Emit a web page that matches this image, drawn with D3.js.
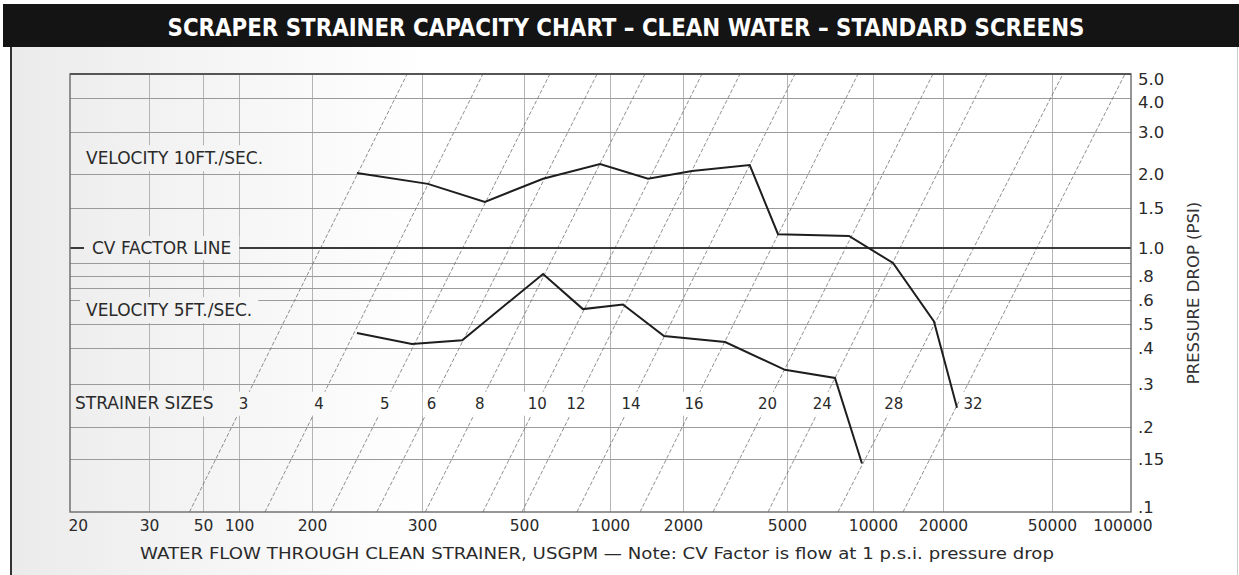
<!DOCTYPE html>
<html><head><meta charset="utf-8">
<script src="https://cdn.jsdelivr.net/npm/d3@7"></script>
<style>
body{margin:0;background:#fff;}
svg{display:block;}
text{font-family:"DejaVu Sans",sans-serif;}
</style>
</head><body>
<svg id="chart" width="1239" height="575"></svg>
<script>
// ---------------- DATA ----------------
const titleText = "SCRAPER STRAINER CAPACITY CHART \u2013 CLEAN WATER \u2013 STANDARD SCREENS";
const xTitle = "WATER FLOW THROUGH CLEAN STRAINER, USGPM \u2014 Note: CV Factor is flow at 1 p.s.i. pressure drop";
const yTitle = "PRESSURE DROP (PSI)";

const flowTicks = [20, 30, 50, 100, 200, 300, 500, 1000, 2000, 5000, 10000, 20000, 50000, 100000];
const pressureTicks = [5.0, 4.0, 3.0, 2.0, 1.5, 1.0, 0.9, 0.8, 0.7, 0.6, 0.5, 0.4, 0.3, 0.2, 0.15, 0.1];
const pressureLabels = ["5.0", "4.0", "3.0", "2.0", "1.5", "1.0", "", ".8", "", ".6", ".5", ".4", ".3", ".2", ".15", ".1"];

const velocity10Flow = [236, 309, 411, 583, 923, 1435, 2165, 3600, 4620, 8240, 12190, 18290, 22500];
const velocity10Drop = [2.02, 1.84, 1.58, 1.92, 2.20, 1.92, 2.06, 2.18, 1.15, 1.13, 0.90, 0.51, 0.24];

const velocity5Flow = [236, 289, 367, 583, 804, 1131, 1670, 2900, 4910, 7360, 9150];
const velocity5Drop = [0.46, 0.415, 0.43, 0.815, 0.56, 0.58, 0.447, 0.423, 0.336, 0.315, 0.145];

const strainerSizes = ["3", "4", "5", "6", "8", "10", "12", "14", "16", "20", "24", "28", "32"];
const sizeFlowAtMinDrop = [44, 128, 214, 254, 305, 407, 495, 766, 1330, 2605, 4229, 7541, 13460];     // flow at 0.1 psi
const sizeFlowAtMaxDrop = [284, 407, 616, 901, 1394, 2364, 3305, 5333, 8863, 18110, 28960, 55050, 94870]; // flow at 5.0 psi

const cvFactorDrop = 1.0;

// ---------------- LAYOUT ----------------
const W = 1239, H = 575;
const plot = {left: 70, right: 1131, top: 74, bottom: 512};
// the printed chart's axes are hand-spaced: stop offsets of each labelled grid line
const xStops = [0, 79, 133, 169, 242, 352, 454, 540, 613, 717, 803, 873, 982, 1061];
const yStops = [0, 24, 58, 100, 134, 174, 189, 202, 214, 226, 250, 274, 310, 353, 385, 438];

const svg = d3.select("#chart");
const defs = svg.append("defs");
const grad = defs.append("linearGradient").attr("id", "bg")
  .attr("gradientUnits", "userSpaceOnUse").attr("x1", 10).attr("x2", 430).attr("y1", 0).attr("y2", 0);
grad.append("stop").attr("offset", 0).attr("stop-color", "#ebebeb");
grad.append("stop").attr("offset", 1).attr("stop-color", "#ffffff");

const x = d3.scaleLog().domain(flowTicks).range(xStops.map(d => plot.left + d));
const y = d3.scaleLog().domain(pressureTicks).range(yStops.map(d => plot.top + d));

// ---------------- FRAME ----------------
svg.append("rect").attr("x", 0).attr("y", 0).attr("width", W).attr("height", H).attr("fill", "#fff");
svg.append("rect").attr("x", 10).attr("y", 47).attr("width", 1227).attr("height", H - 47).attr("fill", "url(#bg)");
svg.append("line").attr("x1", 11).attr("x2", 11).attr("y1", 47).attr("y2", H).attr("stroke", "#333").attr("stroke-width", 2);
svg.append("line").attr("x1", 1237.5).attr("x2", 1237.5).attr("y1", 47).attr("y2", H).attr("stroke", "#ccc").attr("stroke-width", 1);
svg.append("rect").attr("x", 3).attr("y", 4).attr("width", W - 3).attr("height", 43).attr("fill", "#141414");
svg.append("text").attr("x", 626).attr("y", 35.5).attr("text-anchor", "middle")
  .attr("fill", "#fff").attr("font-size", 25).attr("font-weight", "bold")
  .style("font-family", "'DejaVu Sans Condensed','DejaVu Sans',sans-serif")
  .attr("textLength", 917).attr("lengthAdjust", "spacingAndGlyphs")
  .text(titleText);

// ---------------- GRID ----------------
const gPlot = svg.append("g");
// vertical grid lines
gPlot.append("g").attr("transform", `translate(0,${plot.bottom})`)
  .call(d3.axisBottom(x).tickValues(flowTicks.slice(1, -1)).tickSize(-(plot.bottom - plot.top)).tickFormat(""))
  .call(g => g.select(".domain").remove())
  .call(g => g.selectAll("line").attr("stroke", "#b4b4b4").attr("stroke-width", 1));
// horizontal grid lines
gPlot.append("g").attr("transform", `translate(${plot.right},0)`)
  .call(d3.axisRight(y).tickValues(pressureTicks.slice(1, -1)).tickSize(-(plot.right - plot.left)).tickFormat(""))
  .call(g => g.select(".domain").remove())
  .call(g => g.selectAll("line").attr("stroke", "#9a9a9a").attr("stroke-width", 1));

// strainer size lines (diagonal)
const sizeLines = strainerSizes.map((s, i) => ({
  size: s,
  p0: [x(sizeFlowAtMinDrop[i]), y(0.1)],
  p1: [x(sizeFlowAtMaxDrop[i]), y(5.0)]
}));
gPlot.append("g").selectAll("line").data(sizeLines).join("line")
  .attr("x1", d => d.p0[0]).attr("y1", d => d.p0[1])
  .attr("x2", d => d.p1[0]).attr("y2", d => d.p1[1])
  .attr("stroke", "#6a6a6a").attr("stroke-width", 0.75).attr("stroke-dasharray", "4,2");

// CV factor line
gPlot.append("line").attr("x1", plot.left).attr("x2", plot.right)
  .attr("y1", y(cvFactorDrop)).attr("y2", y(cvFactorDrop))
  .attr("stroke", "#3a3a3a").attr("stroke-width", 2.2);

// ---------------- LABELS WITH KNOCKOUT ----------------
function knockLabel(g, tx, ty, txt, opts) {
  const o = Object.assign({size: 17, anchor: "start", padX: 5, padY: 4}, opts || {});
  const t = g.append("text").attr("x", tx).attr("y", ty).attr("dy", "0.36em")
    .attr("text-anchor", o.anchor).attr("font-size", o.size).attr("fill", "#2a2a2a").text(txt);
  const b = t.node().getBBox();
  g.insert("rect", () => t.node())
    .attr("x", b.x - o.padX).attr("y", b.y - o.padY + 1)
    .attr("width", b.width + 2 * o.padX).attr("height", b.height + 2 * o.padY - 2)
    .attr("fill", "url(#bg)");
  return t;
}
const gLab = svg.append("g");
knockLabel(gLab, plot.left + 16, y(2.33), "VELOCITY 10FT./SEC.", {padX: 6});
knockLabel(gLab, plot.left + 22, y(cvFactorDrop), "CV FACTOR LINE", {padX: 8, padY: 3});
knockLabel(gLab, plot.left + 16, y(0.556), "VELOCITY 5FT./SEC.", {padX: 6});
knockLabel(gLab, plot.left + 5, y(0.25), "STRAINER SIZES", {padX: 4});

// size numbers on their lines at 0.25 psi
const labelDrop = 0.25;
sizeLines.forEach((d, i) => {
  const ly = y(labelDrop);
  const t = (ly - d.p0[1]) / (d.p1[1] - d.p0[1]);
  let lx = d.p0[0] + t * (d.p1[0] - d.p0[0]);
  if (i === sizeLines.length - 1) lx += 15;
  knockLabel(gLab, lx, ly, d.size, {size: 15, anchor: "middle", padX: 4, padY: 4});
});

// ---------------- DATA LINES ----------------
const line = d3.line().x(d => x(d[0])).y(d => y(d[1]));
svg.append("path").datum(velocity10Flow.map((f, i) => [f, velocity10Drop[i]]))
  .attr("d", line).attr("fill", "none").attr("stroke", "#1e1e1e").attr("stroke-width", 2).attr("stroke-linejoin", "miter");
svg.append("path").datum(velocity5Flow.map((f, i) => [f, velocity5Drop[i]]))
  .attr("d", line).attr("fill", "none").attr("stroke", "#1e1e1e").attr("stroke-width", 2).attr("stroke-linejoin", "miter");

// ---------------- BORDER ----------------
svg.append("rect").attr("x", plot.left).attr("y", plot.top)
  .attr("width", plot.right - plot.left).attr("height", plot.bottom - plot.top)
  .attr("fill", "none").attr("stroke", "#6a6a6a").attr("stroke-width", 1.4);
svg.append("line").attr("x1", plot.left).attr("x2", plot.right).attr("y1", plot.top).attr("y2", plot.top)
  .attr("stroke", "#555").attr("stroke-width", 1.8);

// ---------------- AXES LABELS ----------------
const xAx = svg.append("g").attr("transform", `translate(0,${plot.bottom})`)
  .call(d3.axisBottom(x).tickValues(flowTicks).tickSize(0).tickPadding(8).tickFormat(d3.format("d")))
  .call(g => g.select(".domain").remove());
xAx.selectAll("text").attr("font-size", 15.5).attr("fill", "#2a2a2a").style("font-family", "'DejaVu Sans',sans-serif");
xAx.selectAll(".tick").filter((d, i) => i === 0).select("text").attr("text-anchor", "start").attr("x", -2);
xAx.selectAll(".tick").filter((d, i) => i === flowTicks.length - 1).select("text").attr("text-anchor", "end").attr("x", 21);

const yLabelShift = {"5.0": 5, "4.0": 4, ".1": -5};
const yAx = svg.append("g").attr("transform", `translate(${plot.right},0)`)
  .call(d3.axisRight(y).tickValues(pressureTicks).tickSize(0).tickPadding(7)
    .tickFormat((d, i) => pressureLabels[i]))
  .call(g => g.select(".domain").remove());
yAx.selectAll("text").attr("font-size", 16.5).attr("fill", "#2a2a2a").style("font-family", "'DejaVu Sans',sans-serif")
  .attr("y", (d, i) => yLabelShift[pressureLabels[i]] || 0);

svg.append("text").attr("transform", `translate(1199,293) rotate(-90)`)
  .attr("text-anchor", "middle").attr("font-size", 16.5).attr("fill", "#333").text(yTitle);

svg.append("text").attr("x", 140).attr("y", 559).attr("font-size", 15.5).attr("fill", "#2a2a2a")
  .attr("textLength", 914).attr("lengthAdjust", "spacingAndGlyphs").text(xTitle);
</script>
</body></html>
